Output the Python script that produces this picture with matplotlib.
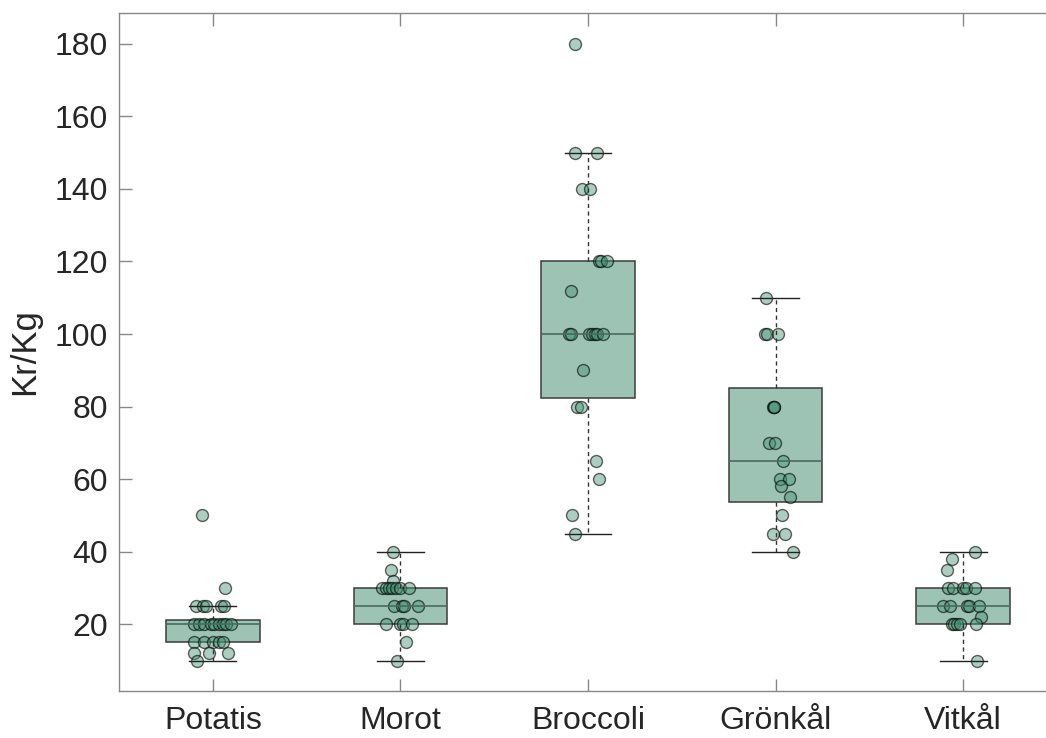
import matplotlib
matplotlib.use("Agg")
import matplotlib.pyplot as plt
import numpy as np

plt.rcParams['font.family'] = ['Liberation Sans', 'DejaVu Sans']

############# data ###################################################

categories = ["Potatis", "Morot", "Broccoli", "Grönkål", "Vitkål"]

# price per kg, one value per observation
potatis = [50, 30, 25, 25, 25, 25, 25,
           20, 20, 20, 20, 20, 20, 20, 20, 20,
           15, 15, 15, 15, 15, 12, 12, 12, 10]
morot = [40, 35, 32, 30, 30, 30, 30, 30, 30, 30,
         25, 25, 25, 25, 20, 20, 20, 20, 15, 10]
broccoli = [180, 150, 150, 140, 140, 120, 120, 120, 112,
            100, 100, 100, 100, 100, 100, 100,
            90, 80, 80, 65, 60, 50, 45]
gronkal = [110, 100, 100, 100, 80, 80, 80, 70, 70, 65,
           60, 60, 58, 55, 50, 45, 45, 40]
vitkal = [40, 38, 35, 30, 30, 30, 30, 30, 25, 25, 25, 25, 25,
          22, 20, 20, 20, 20, 20, 10]

# horizontal jitter of each point (category units), as seen in the picture
potatis_jit = [-0.06, 0.064, -0.09, -0.053, -0.037, 0.043, 0.059,
               -0.10, -0.075, -0.048, -0.011, 0.005, 0.032, 0.053, 0.069, 0.096,
               -0.10, -0.048, 0.0, 0.032, 0.053, -0.10, -0.021, 0.08, -0.085]
morot_jit = [-0.038, -0.052, -0.04, -0.097, -0.079, -0.063, -0.043, -0.025, -0.004, 0.044,
             -0.036, 0.01, 0.017, 0.095, -0.079, 0.0, 0.014, 0.063, 0.032, -0.017]
broccoli_jit = [-0.07, -0.072, 0.049, -0.031, 0.013, 0.061, 0.07, 0.099, -0.093,
                -0.102, -0.09, 0.004, 0.022, 0.035, 0.049, 0.081,
                -0.027, -0.061, -0.036, 0.045, 0.056, -0.088, -0.067]
gronkal_jit = [-0.049, -0.055, -0.046, 0.013, -0.014, -0.007, -0.01, -0.035, -0.003, 0.04,
               0.025, 0.07, 0.029, 0.079, 0.034, -0.016, 0.052, 0.091]
vitkal_jit = [0.064, -0.057, -0.087, -0.08, -0.053, 0.0, 0.016, 0.064,
              -0.106, -0.069, 0.02, 0.032, 0.085,
              0.094, -0.06, -0.048, -0.032, -0.016, 0.069, 0.073]

# box statistics as drawn
q1 = [15, 20, 82.3, 53.6, 20]
medians = [20, 25, 100, 65, 25]
q3 = [21.2, 30, 120, 85, 30]
whisk_lo = [10, 10, 45, 40, 10]
whisk_hi = [25, 40, 150, 110, 40]

values = [potatis, morot, broccoli, gronkal, vitkal]
jitters = [potatis_jit, morot_jit, broccoli_jit, gronkal_jit, vitkal_jit]

############# figure ##################################################

fig = plt.figure(figsize=(10.46, 7.38), dpi=100)
ax = fig.add_axes([0.1138, 0.0637, 0.8967, 0.9187])

positions = np.arange(1, len(categories) + 1)
stats = []
for i in range(len(categories)):
    stats.append(dict(q1=q1[i], med=medians[i], q3=q3[i],
                      whislo=whisk_lo[i], whishi=whisk_hi[i], fliers=[]))

bp = ax.bxp(stats, positions=positions, widths=0.5, capwidths=0.25,
            patch_artist=True, showfliers=False,
            boxprops=dict(facecolor="#9dc3b5", edgecolor="#3c3c3c", linewidth=1.1),
            medianprops=dict(color="#4a6a60", linewidth=1.2),
            whiskerprops=dict(color="#333333", linewidth=1.0, linestyle=(0, (3, 2.5))),
            capprops=dict(color="#222222", linewidth=1.0))
for b in bp["boxes"]:
    b.set_zorder(1)
for ln in bp["whiskers"] + bp["caps"] + bp["medians"]:
    ln.set_zorder(3)

for i, (v, j) in enumerate(zip(values, jitters)):
    x = positions[i] + np.array(j)
    ax.scatter(x, v, s=74, facecolors=[(0.28, 0.58, 0.46, 0.45)],
               edgecolors=[(0, 0, 0, 0.6)], linewidths=1.0, zorder=2)

ax.set_xlim(0.5, 5.5)
ax.set_ylim(1.6, 188.5)
ax.set_yticks(np.arange(20, 181, 20))
ax.set_xticks(positions)
ax.set_xticklabels(categories)
ax.set_ylabel("Kr/Kg", fontsize=25, color="#262626")
ax.yaxis.set_label_coords(-0.083, 0.5)

for s in ax.spines.values():
    s.set_color("#888888")
    s.set_linewidth(1.0)
ax.spines["right"].set_visible(False)   # falls outside the canvas anyway
ax.tick_params(axis="both", direction="in", length=9, width=1.0, color="#888888",
               labelsize=23, labelcolor="#262626", top=True, right=False)
ax.tick_params(axis="x", pad=11)
ax.tick_params(axis="y", pad=8)

fig.savefig("out.png", dpi=100)
